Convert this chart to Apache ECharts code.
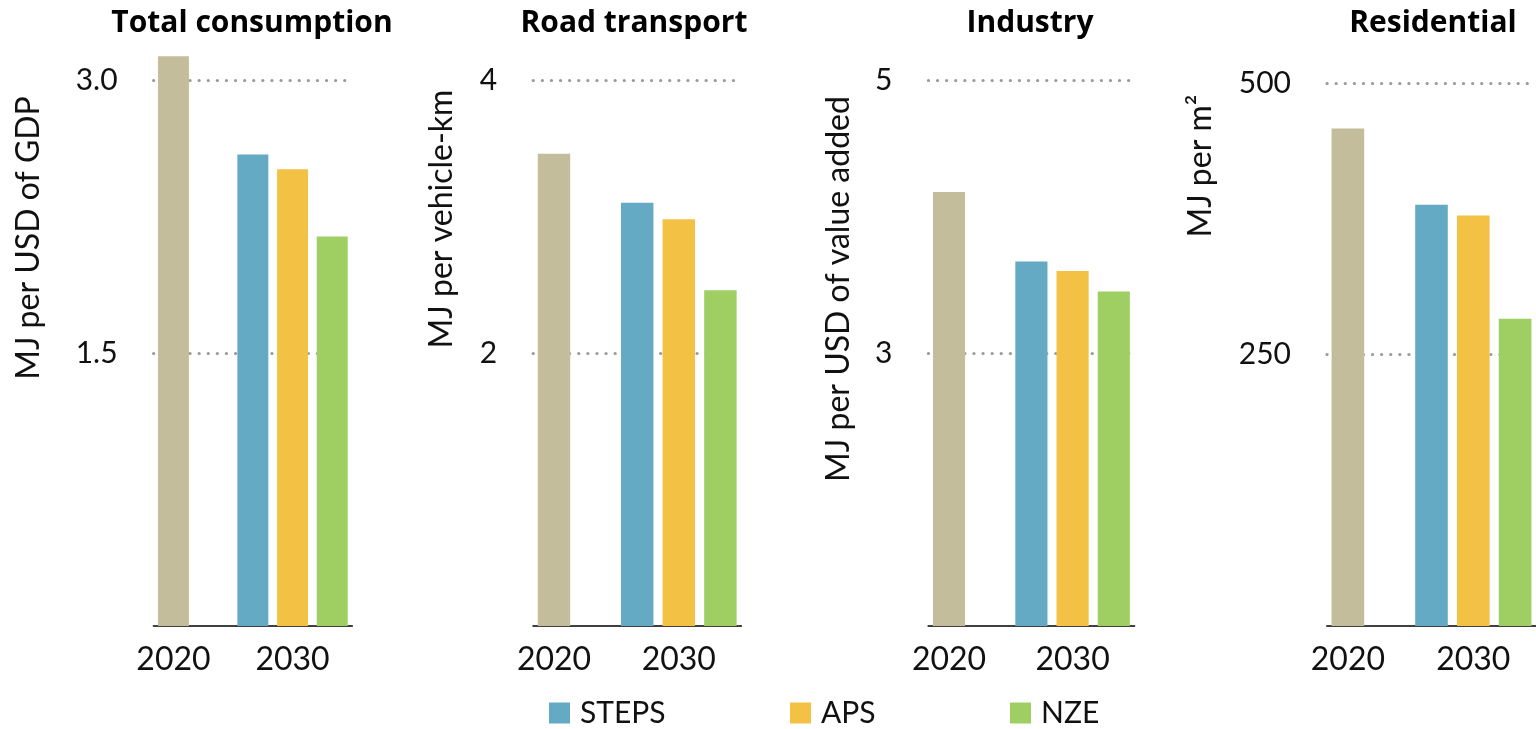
<!DOCTYPE html>
<html>
<head>
<meta charset="utf-8">
<script src="https://cdn.jsdelivr.net/npm/echarts@6/dist/echarts.min.js"></script>
<style>
  html, body { margin: 0; padding: 0; background: #fff; }
  #chart { width: 1536px; height: 729px; }
</style>
</head>
<body>
<div id="chart"></div>
<script>
const titles = ['Total consumption', 'Road transport', 'Industry', 'Residential']
const axisNames = ['MJ per USD of GDP', 'MJ per vehicle-km', 'MJ per USD of value added', 'MJ per m²']
const slots = ['2020', '', '', '2030', '']
const scenarios = ['STEPS', 'APS', 'NZE']
const base2020 = [3.13, 3.46, 4.18, 458]
const steps2030 = [2.59, 3.10, 3.67, 388]
const aps2030 = [2.51, 2.98, 3.60, 378]
const nze2030 = [2.14, 2.46, 3.45, 283]
const axisMin = [0, 0, 1, 0]
const axisMax = [3, 4, 5, 500]
const axisStep = [1.5, 2, 2, 250]
const tickDigits = [1, 0, 0, 0]

// layout
const font = 'Lato, "Open Sans", sans-serif'
const font2 = '"Open Sans", Lato, sans-serif'
const gridLeft = [153.6, 533.2, 928.4, 1327]
const gridWidth = [198.5, 208, 206, 212.5]
const gridTop = [80, 80, 80, 83]
const titleX = [252, 634, 1030, 1433]
const nameX = [29, 442, 839, 1201]
const nameY = [238, 219, 289, 166]
const legendLeft = [549, 790, 1010]
const colors = {
  '2020': '#c3bd9b',
  STEPS: '#64aac4',
  APS: '#f3c244',
  NZE: '#9fcf63'
}

const chart = echarts.init(document.getElementById('chart'))

const grid = []
const xAxis = []
const yAxis = []
const series = []
const graphic = []

titles.forEach((t, i) => {
  grid.push({ left: gridLeft[i], width: gridWidth[i], top: gridTop[i], bottom: 103 })
  xAxis.push({
    type: 'category',
    gridIndex: i,
    data: slots,
    axisTick: { show: false },
    axisLine: { onZero: false, lineStyle: { color: '#404040', width: 2 } },
    axisLabel: { interval: 0, margin: 18, fontSize: 32, fontFamily: font, color: '#111' }
  })
  yAxis.push({
    type: 'value',
    gridIndex: i,
    min: axisMin[i],
    max: axisMax[i],
    interval: axisStep[i],
    axisLine: { show: false },
    axisTick: { show: false },
    axisLabel: {
      showMinLabel: false,
      margin: 36,
      fontSize: 30,
      fontFamily: font,
      color: '#111',
      formatter: v => v.toFixed(tickDigits[i])
    },
    splitLine: {
      showMinLine: false,
      lineStyle: { color: '#9a9a9a', width: 3.2, type: [0.1, 9], cap: 'round' }
    }
  })
  const vals = {
    '2020': [base2020[i], '-', '-', '-', '-'],
    STEPS: ['-', '-', steps2030[i], '-', '-'],
    APS: ['-', '-', '-', aps2030[i], '-'],
    NZE: ['-', '-', '-', '-', nze2030[i]]
  }
  Object.keys(vals).forEach(name => {
    series.push({
      name: name,
      type: 'bar',
      xAxisIndex: i,
      yAxisIndex: i,
      stack: 'p' + i,
      barWidth: '78%',
      // panel 1's 2020 bar pokes above the axis max; panel 3's axis starts at 1
      clip: i === 2,
      itemStyle: { color: colors[name] },
      data: vals[name]
    })
  })
  graphic.push({
    type: 'text',
    x: titleX[i],
    y: 23,
    style: {
      text: t,
      font: 'bold 30px ' + font2,
      fill: '#000',
      align: 'center',
      verticalAlign: 'middle',
      textAlign: 'center',
      textVerticalAlign: 'middle'
    }
  })
  graphic.push({
    type: 'text',
    x: nameX[i],
    y: nameY[i],
    rotation: Math.PI / 2,
    style: {
      text: axisNames[i],
      font: '32px ' + font,
      fill: '#111',
      align: 'center',
      verticalAlign: 'middle',
      textAlign: 'center',
      textVerticalAlign: 'middle'
    }
  })
})

chart.setOption({
  animation: false,
  legend: scenarios.map((s, k) => ({
    data: [s],
    left: legendLeft[k],
    top: 698,
    padding: 0,
    itemWidth: 21,
    itemHeight: 21,
    icon: 'rect',
    selectedMode: false,
    textStyle: { fontSize: 30, fontFamily: font, color: '#111', padding: [0, 0, 0, 5] }
  })),
  grid: grid,
  xAxis: xAxis,
  yAxis: yAxis,
  series: series,
  graphic: graphic
})
</script>
</body>
</html>
